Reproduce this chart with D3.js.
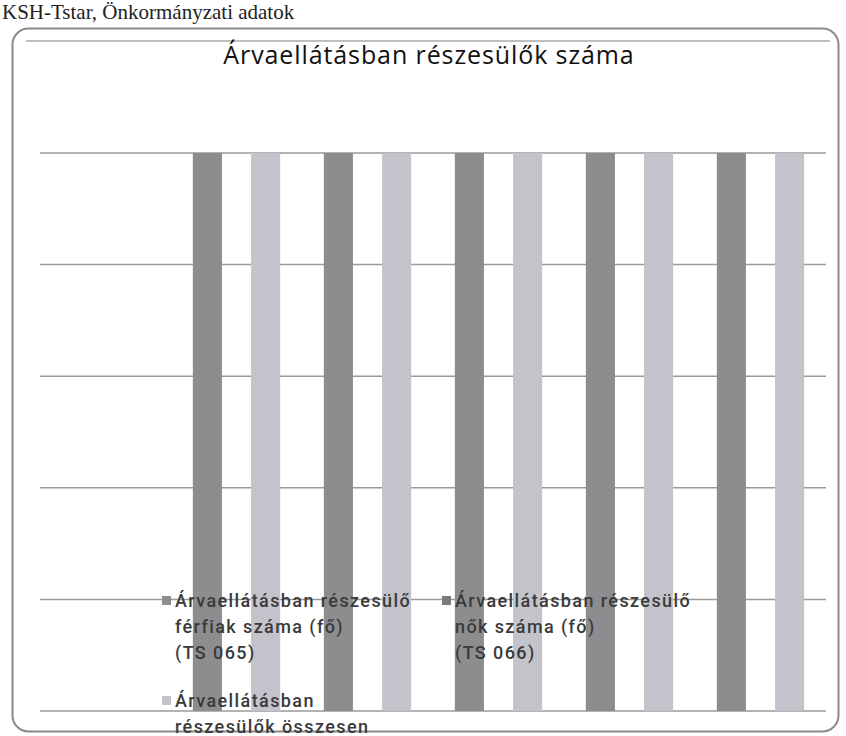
<!DOCTYPE html>
<html>
<head>
<meta charset="utf-8">
<script src="https://cdn.jsdelivr.net/npm/d3@7"></script>
<style>
  body { margin: 0; background: #fff; }
  svg { display: block; }
</style>
</head>
<body>
<svg width="846" height="736"></svg>
<script>
// data: no axis labels are printed, bars all reach the top gridline
var categories = ["2008", "2009", "2010", "2011", "2012", "2013"];
var seriesNames = [
  ["Árvaellátásban részesülő", "férfiak száma (fő)", "(TS 065)"],
  ["Árvaellátásban részesülő", "nők száma (fő)", "(TS 066)"],
  ["Árvaellátásban", "részesülők összesen"]
];
var ferfiak = [0, 5, 5, 5, 5, 5];
var nok = [0, 0, 0, 0, 0, 0];
var osszesen = [0, 5, 5, 5, 5, 5];
var yTicks = [0, 1, 2, 3, 4, 5];
var colors = ["#8d8d8f", "#7c7c7e", "#c3c3cb"];

var series = [ferfiak, nok, osszesen];
var rows = categories.map(function(c, i) {
  return { cat: c, vals: series.map(function(s, k) { return { k: k, v: s[i] }; }) };
});

var svg = d3.select("svg");

// source line at the top of the scan
svg.append("text")
    .attr("x", 2)
    .attr("y", 19)
    .attr("font-family", "Liberation Serif")
    .attr("font-size", 21)
    .attr("fill", "#222")
    .text("KSH-Tstar, Önkormányzati adatok");

// chart frame
svg.append("rect")
    .attr("x", 12.5).attr("y", 28.5)
    .attr("width", 826).attr("height", 703)
    .attr("rx", 16)
    .attr("fill", "none")
    .attr("stroke", "#8a8a8a")
    .attr("stroke-width", 2);

svg.append("line")
    .attr("x1", 26).attr("x2", 830)
    .attr("y1", 41).attr("y2", 41)
    .attr("stroke", "#aaa")
    .attr("stroke-width", 1.5);

svg.append("text")
    .attr("x", 429)
    .attr("y", 64)
    .attr("text-anchor", "middle")
    .attr("font-family", "Open Sans")
    .attr("font-size", 25)
    .attr("letter-spacing", 0.9)
    .attr("fill", "#111")
    .text("Árvaellátásban részesülők száma");

var margin = { left: 40, right: 20, top: 153, bottom: 25 };
var width = 826 - margin.left,
    height = 711 - margin.top;

var g = svg.append("g").attr("transform", "translate(" + margin.left + "," + margin.top + ")");

var x0 = d3.scaleBand().domain(categories).range([0, width]).padding(0);
var bw = x0.bandwidth() / 4.5;
var x1 = d3.scaleBand().domain([0, 1, 2]).range([bw * 0.75, bw * 3.75]).padding(0);
var y = d3.scaleLinear().domain([0, 5]).range([height, 0]);

g.append("g")
  .selectAll("line")
  .data(yTicks)
  .enter().append("line")
    .attr("x1", 0).attr("x2", width)
    .attr("y1", function(d) { return y(d); })
    .attr("y2", function(d) { return y(d); })
    .attr("stroke", "#9a9a9a")
    .attr("stroke-width", 1.5);

g.append("g")
  .selectAll("g")
  .data(rows)
  .enter().append("g")
    .attr("transform", function(d) { return "translate(" + x0(d.cat) + ",0)"; })
  .selectAll("rect")
  .data(function(d) { return d.vals; })
  .enter().append("rect")
    .attr("x", function(d) { return x1(d.k); })
    .attr("width", x1.bandwidth())
    .attr("y", function(d) { return y(d.v); })
    .attr("height", function(d) { return height - y(d.v); })
    .attr("fill", function(d) { return colors[d.k]; });

// legend sits over the lower part of the plot
var legPos = [[162, 600], [442, 600], [162, 700]];
var leg = svg.append("g")
  .selectAll("g")
  .data(seriesNames)
  .enter().append("g")
    .attr("transform", function(d, i) { return "translate(" + legPos[i][0] + "," + legPos[i][1] + ")"; });

leg.append("rect")
    .attr("x", 0).attr("y", -4)
    .attr("width", 9).attr("height", 9)
    .attr("fill", function(d, i) { return colors[i]; });

leg.selectAll("text")
  .data(function(d) { return d; })
  .enter().append("text")
    .attr("x", 13)
    .attr("y", function(d, j) { return 7 + j * 26; })
    .attr("font-family", "Roboto")
    .attr("font-size", 18)
    .attr("font-weight", 500)
    .attr("letter-spacing", 1.4)
    .attr("fill", "#3a3a3a")
    .text(function(d) { return d; });
</script>
</body>
</html>
